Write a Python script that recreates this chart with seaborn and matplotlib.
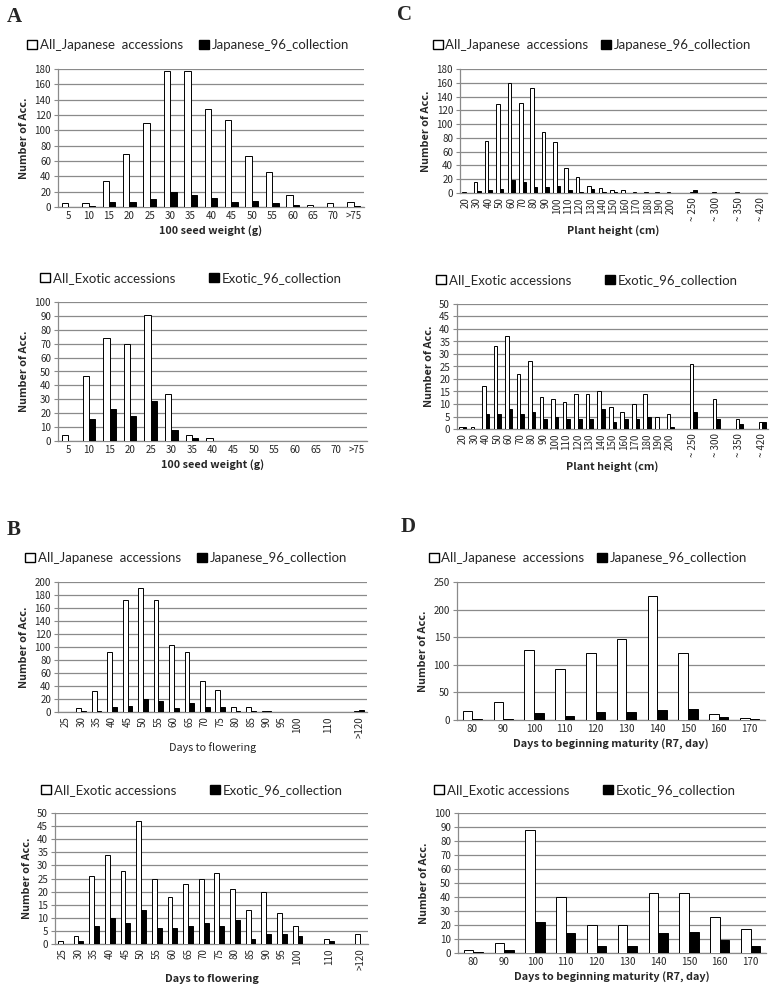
import matplotlib
matplotlib.use("Agg")
import matplotlib.pyplot as plt
from matplotlib.patches import Patch
import seaborn as sns
import pandas as pd

# ---- data ----
# A: 100 seed weight
seed_keys = ['5', '10', '15', '20', '25', '30', '35', '40', '45', '50', '55', '60', '65', '70', '>75']
seed_labels = seed_keys
seed_jp_all = [5, 5, 34, 69, 110, 177, 178, 128, 114, 66, 46, 16, 2, 5, 7]
seed_jp_96 = [0, 1, 7, 7, 10, 19, 16, 12, 6, 8, 5, 3, 0, 0, 1]
seed_ex_all = [4, 47, 74, 70, 91, 34, 4, 2, 0, 0, 0, 0, 0, 0, 0]
seed_ex_96 = [0, 16, 23, 18, 29, 8, 2, 0, 0, 0, 0, 0, 0, 0, 0]

# B: days to flowering
flow_keys = ['25', '30', '35', '40', '45', '50', '55', '60', '65', '70', '75', '80', '85', '90', '95',
             '100', '105', '110', '115', '>120']
flow_labels = ['25', '30', '35', '40', '45', '50', '55', '60', '65', '70', '75', '80', '85', '90', '95',
               '100', '', '110', '', '>120']
flow_jp_all = [0, 6, 33, 92, 173, 191, 172, 103, 92, 48, 34, 7, 8, 1, 0, 0, 0, 0, 0, 1]
flow_jp_96 = [0, 1, 1, 7, 9, 20, 17, 6, 14, 8, 7, 2, 2, 1, 0, 0, 0, 0, 0, 3]
flow_ex_all = [1, 3, 26, 34, 28, 47, 25, 18, 23, 25, 27, 21, 13, 20, 12, 7, 0, 2, 0, 4]
flow_ex_96 = [0, 1, 7, 10, 8, 13, 6, 6, 7, 8, 7, 9, 2, 4, 4, 3, 0, 1, 0, 0]

# C: plant height
height_keys = ['20', '30', '40', '50', '60', '70', '80', '90', '100', '110', '120', '130', '140', '150',
               '160', '170', '180', '190', '200', 'g1', '~250', 'g2', '~300', 'g3', '~350', 'g4', '~420']
height_labels = ['20', '30', '40', '50', '60', '70', '80', '90', '100', '110', '120', '130', '140', '150',
                 '160', '170', '180', '190', '200', '', '~ 250', '', '~ 300', '', '~ 350', '', '~ 420']
height_jp_all = [1, 16, 75, 129, 160, 131, 152, 89, 74, 36, 23, 10, 7, 5, 4, 1, 1, 1, 1,
                 0, 2, 0, 1, 0, 1, 0, 0]
height_jp_96 = [0, 3, 5, 6, 19, 16, 8, 8, 10, 4, 1, 6, 1, 1, 0, 0, 0, 0, 0,
                0, 4, 0, 0, 0, 0, 0, 0]
height_ex_all = [1, 1, 17, 33, 37, 22, 27, 13, 12, 11, 14, 14, 15, 9, 7, 10, 14, 5, 6,
                 0, 26, 0, 12, 0, 4, 0, 3]
height_ex_96 = [1, 0, 6, 6, 8, 6, 7, 4, 5, 4, 4, 4, 8, 3, 4, 4, 5, 0, 1,
                0, 7, 0, 4, 0, 2, 0, 3]

# D: days to beginning maturity
mat_keys = ['80', '90', '100', '110', '120', '130', '140', '150', '160', '170']
mat_labels = mat_keys
mat_jp_all = [16, 32, 127, 92, 122, 146, 225, 122, 10, 3]
mat_jp_96 = [1, 2, 13, 7, 15, 14, 19, 20, 5, 2]
mat_ex_all = [2, 7, 88, 40, 20, 20, 43, 43, 26, 17]
mat_ex_96 = [1, 2, 22, 14, 5, 5, 14, 15, 9, 5]

jp_names = ['All_Japanese  accessions', 'Japanese_96_collection']
ex_names = ['All_Exotic accessions', 'Exotic_96_collection']

sns.set_theme(style='white')
plt.rcParams['font.family'] = ['Noto Sans CJK JP', 'DejaVu Sans']

W, H = 775, 996
fig = plt.figure(figsize=(W / 100, H / 100), dpi=100)
GRID = '#8a8a8a'


def panel(box, keys, labels, all_vals, sub_vals, names, ymax, ystep, xlabel,
          rotate=False, xlabel_bold=True, legend_xy=None, colspace=1.0):
    x0, y0, x1, y1 = box
    ax = fig.add_axes([x0 / W, 1 - y1 / H, (x1 - x0) / W, (y1 - y0) / H])
    df = pd.DataFrame({
        'cat': keys + keys,
        'count': all_vals + sub_vals,
        'series': [names[0]] * len(keys) + [names[1]] * len(keys),
    })
    sns.barplot(data=df, x='cat', y='count', hue='series', order=keys, hue_order=names,
                palette={names[0]: 'white', names[1]: 'black'}, edgecolor='black',
                linewidth=0.7, width=0.62, gap=0, legend=False, ax=ax, zorder=3)
    n = len(keys)
    ax.set_xlim(-0.5, n - 0.5)
    ax.set_ylim(0, ymax)
    ax.set_yticks(range(0, ymax + 1, ystep))
    ax.yaxis.grid(True, color=GRID, lw=0.9, zorder=0)
    ax.set_axisbelow(True)
    for s in ['top', 'right']:
        ax.spines[s].set_visible(False)
    for s in ['left', 'bottom']:
        ax.spines[s].set_color(GRID)
        ax.spines[s].set_linewidth(0.9)
    ax.set_xticks(range(n))
    ax.set_xticklabels(labels, rotation=90 if rotate else 0)
    ax.set_xticks([i - 0.5 for i in range(n + 1)], minor=True)
    ax.tick_params(axis='x', which='major', length=0, labelsize=7, pad=3)
    ax.tick_params(axis='x', which='minor', length=3, color=GRID, width=0.8)
    ax.tick_params(axis='y', length=3, color=GRID, width=0.8, labelsize=7, pad=2, left=True)
    ax.set_ylabel('Number of Acc.', fontsize=7.8, fontweight='bold', labelpad=4)
    ax.set_xlabel(xlabel, fontsize=7.8, fontweight='bold' if xlabel_bold else 'normal', labelpad=3)
    handles = [Patch(facecolor='white', edgecolor='black', lw=1.0),
               Patch(facecolor='black', edgecolor='black')]
    fig.legend(handles, names, loc='center', ncol=2, frameon=False,
               bbox_to_anchor=(legend_xy[0] / W, 1 - legend_xy[1] / H),
               handlelength=0.75, handleheight=0.75, handletextpad=0.2,
               columnspacing=colspace, borderpad=0, prop={'family': ['Lato', 'DejaVu Sans'], 'size': 9.5})
    return ax


panel((58, 69, 364, 207), seed_keys, seed_labels, seed_jp_all, seed_jp_96, jp_names,
      180, 20, '100 seed weight (g)', legend_xy=(188, 45), colspace=1.2)
panel((58, 302, 367, 441), seed_keys, seed_labels, seed_ex_all, seed_ex_96, ex_names,
      100, 10, '100 seed weight (g)', legend_xy=(191, 278), colspace=2.6)

panel((460, 69, 767, 193), height_keys, height_labels, height_jp_all, height_jp_96, jp_names,
      180, 20, 'Plant height (cm)', rotate=True, legend_xy=(592, 45), colspace=1.0)
panel((457, 304, 768, 429), height_keys, height_labels, height_ex_all, height_ex_96, ex_names,
      50, 5, 'Plant height (cm)', rotate=True, legend_xy=(587, 280), colspace=2.6)

panel((58, 582, 367, 712), flow_keys, flow_labels, flow_jp_all, flow_jp_96, jp_names,
      200, 20, 'Days to flowering', rotate=True, xlabel_bold=False, legend_xy=(186, 558), colspace=1.2)
panel((55, 813, 368, 944), flow_keys, flow_labels, flow_ex_all, flow_ex_96, ex_names,
      50, 5, 'Days to flowering', rotate=True, legend_xy=(192, 790), colspace=2.6)

panel((457, 582, 765, 720), mat_keys, mat_labels, mat_jp_all, mat_jp_96, jp_names,
      250, 50, 'Days to beginning maturity (R7, day)', legend_xy=(588, 558), colspace=1.0)
panel((458, 813, 766, 953), mat_keys, mat_labels, mat_ex_all, mat_ex_96, ex_names,
      100, 10, 'Days to beginning maturity (R7, day)', legend_xy=(585, 790), colspace=2.6)

# panel letters
for letter, (px, py) in {'A': (7, 17), 'C': (397, 15), 'B': (7, 530), 'D': (401, 527)}.items():
    fig.text(px / W, 1 - py / H, letter, fontsize=15, fontweight='bold',
             family='Liberation Serif', va='center', ha='left')

fig.savefig('out.png', dpi=100)
